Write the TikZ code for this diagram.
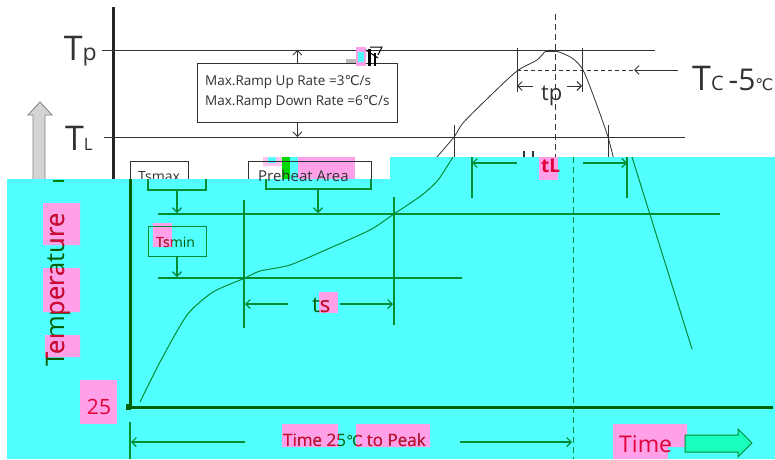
\documentclass[tikz,border=0pt]{standalone}
\usepackage{fontspec}
\setmainfont{Open Sans}
\newfontfamily\symfnt{DejaVu Sans}
\newcommand{\dgc}{{\symfnt ℃}}
\newcommand{\fsz}[1]{\fontsize{#1}{#1}\selectfont}
\usetikzlibrary{arrows.meta}
\definecolor{cyanbg}{RGB}{82,255,255}
\definecolor{pinkhl}{RGB}{255,160,232}
\definecolor{redtxt}{RGB}{225,0,55}
\definecolor{grn}{RGB}{0,140,50}
\definecolor{dgrn}{RGB}{0,95,0}
\definecolor{mint}{RGB}{25,255,190}
\definecolor{dgray}{RGB}{50,50,50}
\definecolor{lgrayfill}{RGB}{212,212,212}
\begin{document}
\begin{tikzpicture}[x=1pt,y=-1pt,
  topline/.style={draw=dgray,line width=0.9pt},
  gline/.style={draw=grn,line width=1.1pt},
  barb/.style={-{Straight Barb[length=4.5pt,width=9pt]}},
  lbl/.style={inner sep=0pt,anchor=base west}]
\useasboundingbox (0,0) rectangle (775,459);
\fill[white] (0,0) rectangle (775,459);

% ---------- upper (white) part ----------
\coordinate (axT) at (113,7); \coordinate (axB) at (113,182);
\draw[line width=3pt,black!85] (axT) -- (axB);
\coordinate (tpL) at (102,50); \coordinate (tpR) at (655,50);
\draw[topline] (tpL) -- (tpR);
\coordinate (tlL) at (104,137); \coordinate (tlR) at (685,137);
\draw[topline] (tlL) -- (tlR);
\node[inner sep=0pt,anchor=base east,text=dgray] (Tp) at (97,60) {\fsz{34}T\fsz{23}p};
\node[inner sep=0pt,anchor=base east,text=dgray] (TL) at (93,150) {\fsz{34}T\fsz{17}L};
% grey up arrow
\draw[fill=lgrayfill,draw=gray,line width=0.8pt] (40,102) -- (52,115) -- (45,115) -- (45,185) -- (33,185) -- (33,115) -- (28,115) -- cycle;
% rate box
\node[draw=dgray,line width=0.8pt,anchor=north west,minimum width=200pt,minimum height=59pt,inner sep=0pt] (rate) at (197,63) {};
\node[lbl,text=dgray] (r1) at (205,85) {\fsz{13.5}Max.Ramp Up Rate =3\dgc/s};
\node[lbl,text=dgray] (r2) at (205,105) {\fsz{13.5}Max.Ramp Down Rate =6\dgc/s};
\draw[topline,barb] (rate.north) -- (rate.north |- tpL);
\draw[topline,barb] (rate.south) -- (rate.south |- tlL);
% small glitch icon
\fill[gray!55] (346,59) rectangle (357,63);
\fill[pinkhl] (356,47) rectangle (366,66);
\fill[cyanbg] (358,52) rectangle (364,62);
\fill[black] (368,49) rectangle (371,66);
\fill[black] (374,53) rectangle (376,66);
\draw[black,line width=1pt] (366,50) -- (378,58) (370,47) -- (382,47) -- (378,55);
% top curve
\draw[dgray,line width=0.8pt] plot[smooth,tension=0.45] coordinates {(430,165) (454,137) (463,123) (490,96) (517,71) (537,60) (546,51) (556,51) (572,58) (583,70) (595,100) (608,137) (615,165)};
\draw[dgray,line width=2pt] (546,51) -- (556,51);
% tp
\draw[topline] (517,48) -- (517,92) (582,48) -- (582,92);
\coordinate (tpa) at (517,86); \coordinate (tpb) at (582,86);
\draw[topline,barb] (533,86) -- (tpa);
\draw[topline,barb] (567,86) -- (tpb);
\node[lbl,text=dgray] (tplbl) at (541,100) {\fsz{22}tp};
% Tc - 5
\draw[topline,dashed,dash pattern=on 4pt off 3pt] (517,70) -- (633,70);
\coordinate (tcarr) at (634,70);
\draw[topline,barb] (678,70) -- (tcarr);
\node[lbl,text=dgray] (tclbl) at (692,90) {\fsz{34}T\fsz{20}C\hspace{5pt}\fsz{30}-5\fsz{16}\dgc};
% dashed peak line
\draw[topline,dashed,dash pattern=on 6pt off 4pt] (555,14) -- (555,160);
% tL verticals (upper)
\draw[topline] (454,125) -- (454,160) (608,125) -- (608,160);
\draw[dgray,line width=1.2pt] (524,151) -- (524,158) (533,151) -- (533,158);
% Tsmax / Preheat upper boxes
\draw[topline] (130,182) -- (130,161) -- (188,161) -- (188,182);
\node[lbl,text=dgray] (tsmax) at (138,181) {\fsz{14}Tsmax};
\fill[pinkhl] (298,157) rectangle (355,179);
\fill[pinkhl!60] (263,157) rectangle (282,166);
\fill[cyanbg] (268,157) rectangle (276,163);
\fill[green!85!black] (282,157) rectangle (290,179);
\fill[cyanbg] (290,157) rectangle (298,179);
\draw[topline] (248,182) -- (248,161) -- (371,161) -- (371,182);

% ---------- cyan (lower) part ----------
\fill[cyanbg] (7,179) -- (390,179) -- (390,157) -- (775,157) -- (775,459) -- (7,459) -- cycle;
\draw[green!50!black,line width=1.2pt] (53,181) -- (64,181);
\node[lbl,text=dgray] (preheat) at (258,181) {\fsz{15}Preheat Area};

% axes
\draw[dgrn,line width=3pt] (130,179) -- (130,407);
\draw[dgrn,line width=3pt] (128,407) -- (773,407);
\fill[dgrn] (126,404) rectangle (131,410);

% Tsmax (lower)
\draw[gline] (148,179) -- (148,190) -- (206,190) -- (206,179);
\coordinate (tsmaxA) at (177,190); \coordinate (tsmaxB) at (177,213);
\draw[gline,barb] (tsmaxA) -- (tsmaxB);
\draw[gline] (158,214) -- (720,214);
% Preheat (lower)
\draw[gline] (266,179) -- (266,189) -- (371,189) -- (371,179);
\coordinate (phA) at (318,189); \coordinate (phB) at (318,213);
\draw[gline,barb] (phA) -- (phB);
% ts verticals
\draw[gline] (244,200) -- (244,328) (394,197) -- (394,325);
% Tsmin
\fill[pinkhl] (153,223) rectangle (172,247);
\node[draw=grn,line width=1.1pt,anchor=north west,minimum width=58pt,minimum height=30pt,inner sep=0pt] (tsminbox) at (148,226) {};
\node[lbl,text=dgrn] (tsmin) at (156,247) {\fsz{14}Tsmin};
\begin{scope}
  \clip (153,223) rectangle (172,247.5);
  \node[lbl,text=redtxt] (tsminr) at (156,247) {\fsz{14}Tsmin};
\end{scope}
\coordinate (tsminB) at (177,277);
\draw[gline,barb] (tsminbox.south -| tsminB) -- (tsminB);
\draw[gline] (158,278) -- (462,278);
% ts
\coordinate (tsa) at (245,304); \coordinate (tsb) at (393,304);
\draw[gline,barb] (288,304) -- (tsa);
\draw[gline,barb] (340,304) -- (tsb);
\fill[pinkhl] (319,292) rectangle (338,313);
\node[lbl,text=dgrn] (ts) at (312,312) {\fsz{22}ts};
\begin{scope}
  \clip (319,292) rectangle (338,316);
  \node[lbl,text=redtxt] (tsr) at (312,312) {\fsz{22}ts};
\end{scope}
% profile curve (lower)
\draw[grn,line width=1pt] plot[smooth,tension=0.4] coordinates {(140,402) (160,362) (187,315) (213,292) (245,278) (260,271) (290,265) (330,248) (370,230) (394,214) (422,195) (438,180) (453,157)};
\draw[grn,line width=1pt] (632,157) -- (692,349);
% tL
\draw[gline] (472,157) -- (472,198) (627,157) -- (627,198);
\coordinate (tla) at (472,163); \coordinate (tlb) at (627,163);
\draw[gline,barb] (517,163) -- (tla);
\draw[gline,barb] (583,163) -- (tlb);
\fill[pinkhl] (539,157) rectangle (558,180);
\node[lbl,text=redtxt] (tllbl) at (541,172) {\fsz{19}\bfseries tL};
% dashed vertical (lower)
\draw[grn,line width=1pt,dashed,dash pattern=on 6pt off 4pt] (573,157) -- (573,459);

% Temperature
\fill[pinkhl] (43,203) rectangle (80,245) (43,268) rectangle (80,312) (45,335) rectangle (80,357);
\node[inner sep=0pt,anchor=base,rotate=90,text=dgrn] (temp) at (64,290) {\fsz{25.5}Temperature};
\begin{scope}
  \clip (43,203) rectangle (80,245) (43,268) rectangle (80,312) (45,335) rectangle (80,357);
  \node[inner sep=0pt,anchor=base,rotate=90,text=redtxt] (tempr) at (64,290) {\fsz{25.5}Temperature};
\end{scope}
% 25
\fill[pinkhl] (80,380) rectangle (117,424);
\node[inner sep=0pt,anchor=base,text=redtxt] (t25) at (99,414) {\fsz{21}25};

% bottom dimension
\draw[gline] (130,422) -- (130,459);
\coordinate (bla) at (131,442); \coordinate (blb) at (572,442);
\draw[gline,barb] (245,442) -- (bla);
\draw[gline,barb] (460,442) -- (blb);
\fill[pinkhl] (282,424) rectangle (338,447) (356,424) rectangle (430,447);
\node[lbl,text=dgrn] (ttp) at (283,446) {\fsz{17}Time 25\fsz{15}\dgc{} \fsz{17}to Peak};
\begin{scope}
  \clip (282,424) rectangle (338,449) (356,424) rectangle (430,449);
  \node[lbl,text=redtxt] (ttpr) at (283,446) {\fsz{17}Time 25\fsz{15}\dgc{} \fsz{17}to Peak};
\end{scope}
% Time
\fill[pinkhl] (613,424) rectangle (687,447) (613,447) rectangle (668,459);
\node[lbl,text=redtxt] (time) at (619,452) {\fsz{23}Time};
\draw[fill=mint,draw=grn,line width=1pt] (685,435) -- (738,435) -- (738,429) -- (752,443) -- (738,457) -- (738,452) -- (685,452) -- cycle;
\end{tikzpicture}
\end{document}
